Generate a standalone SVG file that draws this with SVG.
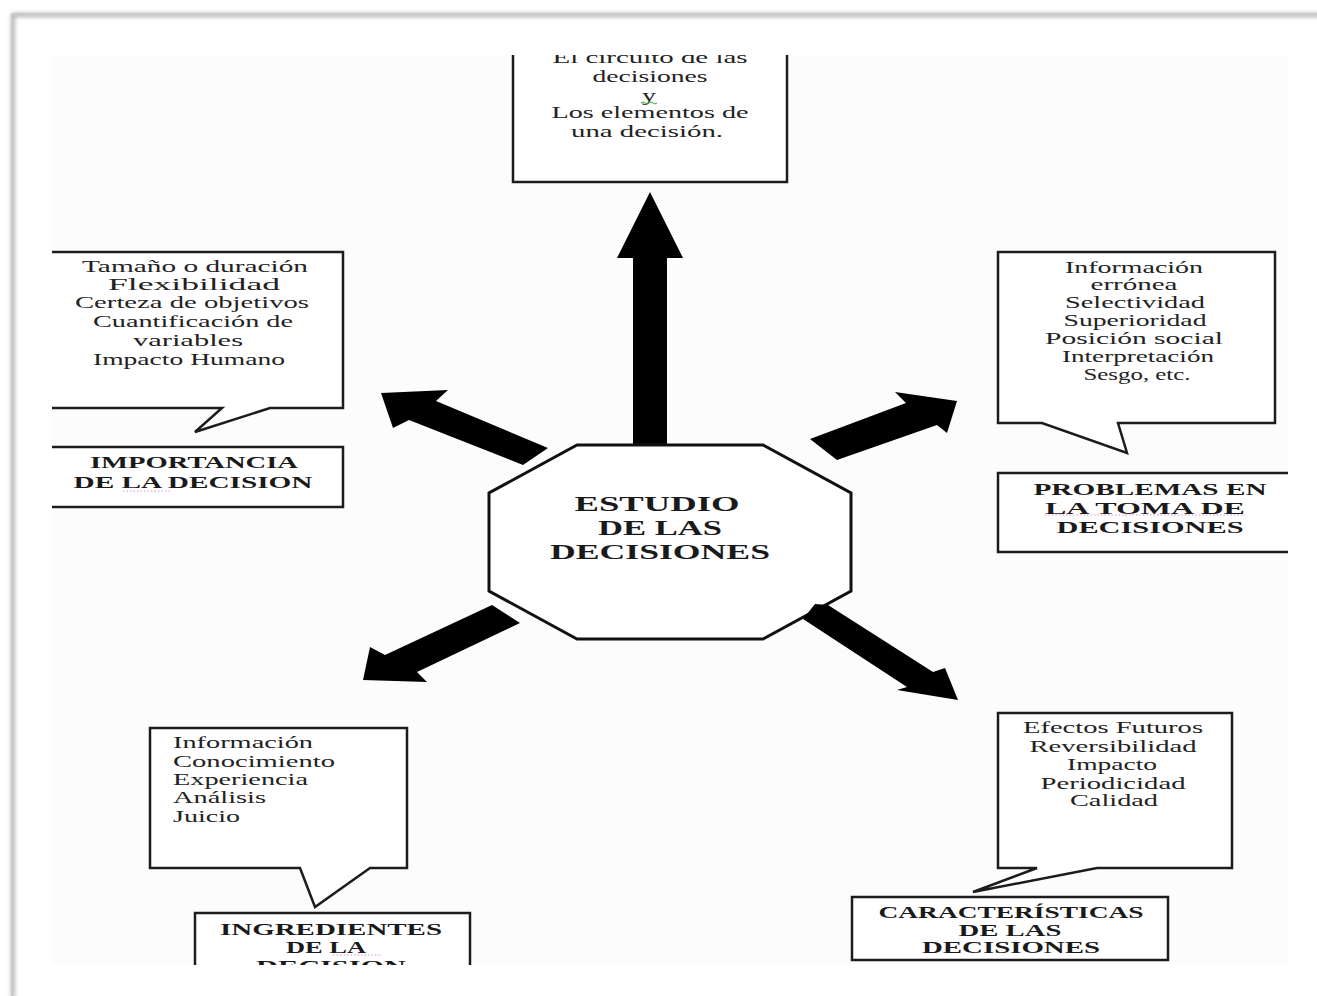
<svg xmlns="http://www.w3.org/2000/svg" width="1317" height="996" viewBox="0 0 1317 996">
<defs>
<style>
.box{fill:#fff;stroke:#1c1c1c;stroke-width:2.5;stroke-linejoin:miter}
.body{font-family:"Liberation Serif","DejaVu Serif",serif;font-size:16.5px;fill:#222;text-anchor:middle}
.left{text-anchor:start}
.title{font-family:"Liberation Serif","DejaVu Serif",serif;font-size:16px;font-weight:bold;fill:#1a1a1a;text-anchor:middle}
.center{font-family:"Liberation Serif","DejaVu Serif",serif;font-size:21px;font-weight:bold;fill:#1a1a1a;text-anchor:middle}
.arrow{fill:#000}
.spell{stroke:#d060d0;stroke-width:1;stroke-dasharray:1.5 2;fill:none;opacity:0.7}
</style>
<clipPath id="pic"><rect x="52" y="55" width="1236" height="910"/></clipPath>
<filter id="sh" x="-5%" y="-5%" width="110%" height="110%"><feGaussianBlur stdDeviation="2"/></filter>
</defs>
<rect x="0" y="0" width="1317" height="996" fill="#fff"/>
<g id="frame">
<path d="M13 998 V15 H1320" fill="none" stroke="#9a9a9a" stroke-width="3" filter="url(#sh)"/>
<path d="M12 996 V14 H1317" fill="none" stroke="#c4c4c4" stroke-width="1.2"/>
<rect x="52" y="55" width="1236" height="910" fill="#fcfcfc"/>
</g>
<g clip-path="url(#pic)">
<g id="connectors">
<polygon class="arrow" points="650,192 683,258 667,258 667,458 633,458 633,258 617,258"/>
<polygon class="arrow" points="381,393 448,390 436,401 548,448 523,465 409,420 393,428"/>
<polygon class="arrow" points="957,401 895,392 906,403 810,439 837,460 937,425 947,433"/>
<polygon class="arrow" points="363,680 370,647 385,655 492,605 520,623 417,672 427,682"/>
</g>
<g id="center">
<polygon points="577,445 763,445 851,493 851,591 763,639 577,639 489,591 489,493" fill="#fff" stroke="#111" stroke-width="3"/>
<text class="center" x="657" y="511" textLength="165" lengthAdjust="spacingAndGlyphs">ESTUDIO</text>
<text class="center" x="660" y="535" textLength="124" lengthAdjust="spacingAndGlyphs">DE LAS</text>
<text class="center" x="660" y="559" textLength="220" lengthAdjust="spacingAndGlyphs">DECISIONES</text>
</g>
<g id="connectors2">
<polygon class="arrow" points="815,604 828,605 933,672 945,668 958,700 897,690 907,687 803,619"/>
</g>
<g id="top-box">
<rect class="box" x="513" y="30" width="274" height="152"/>
<text class="body" x="650" y="63" textLength="195" lengthAdjust="spacingAndGlyphs">El circuito de las</text>
<text class="body" x="650" y="82" textLength="115" lengthAdjust="spacingAndGlyphs">decisiones</text>
<text class="body" x="649" y="101" textLength="14" lengthAdjust="spacingAndGlyphs">y</text>
<path d="M641 103 q2 -2 4 0 t4 0 t4 0 t4 0" fill="none" stroke="#3a3" stroke-width="1"/>
<text class="body" x="650" y="118" textLength="197" lengthAdjust="spacingAndGlyphs">Los elementos de</text>
<text class="body" x="647" y="137" textLength="152" lengthAdjust="spacingAndGlyphs">una decisión.</text>
</g>
<g id="importancia-callout">
<path class="box" d="M40 252 H343 V408 H270 L195 432 L222 408 H40 Z"/>
<text class="body" x="195" y="272" textLength="226" lengthAdjust="spacingAndGlyphs">Tamaño o duración</text>
<text class="body" x="194" y="290" textLength="172" lengthAdjust="spacingAndGlyphs">Flexibilidad</text>
<text class="body" x="192" y="308" textLength="234" lengthAdjust="spacingAndGlyphs">Certeza de objetivos</text>
<text class="body" x="193" y="327" textLength="200" lengthAdjust="spacingAndGlyphs">Cuantificación de</text>
<text class="body" x="188" y="346" textLength="110" lengthAdjust="spacingAndGlyphs">variables</text>
<text class="body" x="189" y="365" textLength="192" lengthAdjust="spacingAndGlyphs">Impacto Humano</text>
</g>
<g id="importancia-title">
<rect class="box" x="40" y="447" width="303" height="60"/>
<text class="title" x="194" y="468" textLength="208" lengthAdjust="spacingAndGlyphs">IMPORTANCIA</text>
<text class="title" x="193" y="488" textLength="239" lengthAdjust="spacingAndGlyphs">DE LA DECISION</text>
<path class="spell" d="M123 491 H170"/>
</g>
<g id="problemas-callout">
<path class="box" d="M998 252 H1275 V423 H1118 L1127 453 L1042 423 H998 Z"/>
<text class="body" x="1134" y="273" textLength="138" lengthAdjust="spacingAndGlyphs">Información</text>
<text class="body" x="1134" y="290" textLength="87" lengthAdjust="spacingAndGlyphs">errónea</text>
<text class="body" x="1135" y="308" textLength="140" lengthAdjust="spacingAndGlyphs">Selectividad</text>
<text class="body" x="1135" y="326" textLength="143" lengthAdjust="spacingAndGlyphs">Superioridad</text>
<text class="body" x="1134" y="344" textLength="178" lengthAdjust="spacingAndGlyphs">Posición social</text>
<text class="body" x="1138" y="362" textLength="152" lengthAdjust="spacingAndGlyphs">Interpretación</text>
<text class="body" x="1137" y="380" textLength="107" lengthAdjust="spacingAndGlyphs">Sesgo, etc.</text>
</g>
<g id="problemas-title">
<rect class="box" x="998" y="473" width="310" height="79"/>
<text class="title" x="1150" y="495" textLength="233" lengthAdjust="spacingAndGlyphs">PROBLEMAS EN</text>
<text class="title" x="1145" y="514" textLength="200" lengthAdjust="spacingAndGlyphs">LA TOMA DE</text>
<text class="title" x="1150" y="533" textLength="187" lengthAdjust="spacingAndGlyphs">DECISIONES</text>
<path class="spell" d="M1045 515 H1245"/>
</g>
<g id="ingredientes-callout">
<path class="box" d="M150 728 H407 V868 H370 L315 907 L300 868 H150 Z"/>
<text class="body left" x="173" y="748" textLength="140" lengthAdjust="spacingAndGlyphs">Información</text>
<text class="body left" x="173" y="767" textLength="162" lengthAdjust="spacingAndGlyphs">Conocimiento</text>
<text class="body left" x="173" y="785" textLength="135" lengthAdjust="spacingAndGlyphs">Experiencia</text>
<text class="body left" x="173" y="803" textLength="93" lengthAdjust="spacingAndGlyphs">Análisis</text>
<text class="body left" x="173" y="822" textLength="67" lengthAdjust="spacingAndGlyphs">Juicio</text>
</g>
<g id="ingredientes-title">
<rect class="box" x="195" y="913" width="275" height="70"/>
<text class="title" x="331" y="935" textLength="222" lengthAdjust="spacingAndGlyphs">INGREDIENTES</text>
<text class="title" x="326" y="953" textLength="80" lengthAdjust="spacingAndGlyphs">DE LA</text>
<text class="title" x="331" y="972" textLength="150" lengthAdjust="spacingAndGlyphs">DECISION</text>
<path class="spell" d="M333 955 H382"/>
</g>
<g id="caracteristicas-callout">
<path class="box" d="M998 713 H1232 V868 H1097 L973 892 L1037 868 H998 Z"/>
<text class="body" x="1113" y="733" textLength="180" lengthAdjust="spacingAndGlyphs">Efectos Futuros</text>
<text class="body" x="1113" y="752" textLength="167" lengthAdjust="spacingAndGlyphs">Reversibilidad</text>
<text class="body" x="1112" y="770" textLength="90" lengthAdjust="spacingAndGlyphs">Impacto</text>
<text class="body" x="1113" y="789" textLength="145" lengthAdjust="spacingAndGlyphs">Periodicidad</text>
<text class="body" x="1114" y="806" textLength="88" lengthAdjust="spacingAndGlyphs">Calidad</text>
</g>
<g id="caracteristicas-title">
<rect class="box" x="852" y="897" width="316" height="63"/>
<text class="title" x="1011" y="918" textLength="265" lengthAdjust="spacingAndGlyphs">CARACTERÍSTICAS</text>
<text class="title" x="1010" y="936" textLength="103" lengthAdjust="spacingAndGlyphs">DE LAS</text>
<text class="title" x="1011" y="953" textLength="178" lengthAdjust="spacingAndGlyphs">DECISIONES</text>
</g>
</g>
</svg>
